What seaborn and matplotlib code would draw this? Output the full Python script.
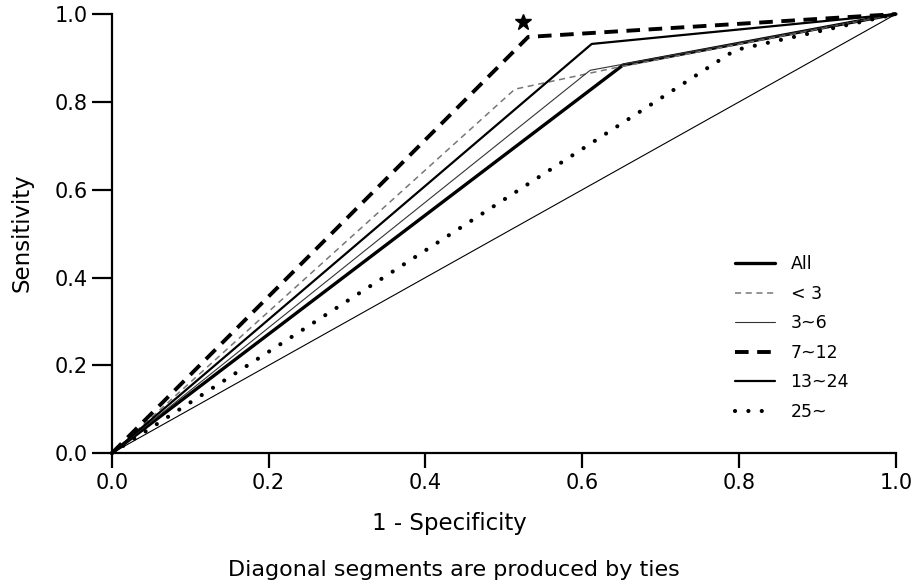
import numpy as np
import pandas as pd
import matplotlib
matplotlib.use('Agg')
import matplotlib.pyplot as plt
import seaborn as sns

# ROC vertices (1 - specificity, sensitivity)
groups = ["All", "< 3", "3~6", "7~12", "13~24", "25~"]
fpr_all = [0.0, 0.652, 1.0]
tpr_all = [0.0, 0.884, 1.0]
fpr_lt3 = [0.0, 0.514, 0.64, 1.0]
tpr_lt3 = [0.0, 0.829, 0.877, 1.0]
fpr_3_6 = [0.0, 0.61, 1.0]
tpr_3_6 = [0.0, 0.872, 1.0]
fpr_7_12 = [0.0, 0.531, 1.0]
tpr_7_12 = [0.0, 0.948, 1.0]
fpr_13_24 = [0.0, 0.612, 1.0]
tpr_13_24 = [0.0, 0.932, 1.0]
fpr_25 = [0.0, 0.795, 1.0]
tpr_25 = [0.0, 0.918, 1.0]
ref_x = [0.0, 1.0]
ref_y = [0.0, 1.0]
star_x = [0.524]
star_y = [0.982]
ticks = [0.0, 0.2, 0.4, 0.6, 0.8, 1.0]
tick_labels = ["0.0", "0.2", "0.4", "0.6", "0.8", "1.0"]

sns.set_theme(style="white")
plt.rcParams['font.family'] = ['DejaVu Sans']
plt.rcParams['text.color'] = 'black'

fig = plt.figure(figsize=(9.17, 5.87), dpi=100)
ax = fig.add_axes([0.122, 0.228, 0.855, 0.748])

styles = {
    "All": dict(color="black", linewidth=2.4, linestyle="-"),
    "< 3": dict(color="#777777", linewidth=1.1, linestyle=(0, (4, 3))),
    "3~6": dict(color="#333333", linewidth=0.8, linestyle="-"),
    "7~12": dict(color="black", linewidth=2.8, linestyle=(0, (3.5, 2.2))),
    "13~24": dict(color="black", linewidth=1.6, linestyle="-"),
    "25~": dict(color="black", linewidth=3.0, linestyle=(0, (0.01, 3.2)),
                dash_capstyle="round"),
}
data = {
    "All": (fpr_all, tpr_all),
    "< 3": (fpr_lt3, tpr_lt3),
    "3~6": (fpr_3_6, tpr_3_6),
    "7~12": (fpr_7_12, tpr_7_12),
    "13~24": (fpr_13_24, tpr_13_24),
    "25~": (fpr_25, tpr_25),
}

# reference diagonal
sns.lineplot(x=ref_x, y=ref_y, ax=ax, color="black", linewidth=0.8,
             sort=False, clip_on=False)

handles = []
for g in groups:
    xs, ys = data[g]
    df = pd.DataFrame({"x": xs, "y": ys})
    sns.lineplot(data=df, x="x", y="y", ax=ax, sort=False, clip_on=False,
                 label=g, **styles[g])
    handles.append(ax.get_lines()[-1])

ax.plot(star_x, star_y, marker="*", color="black", markersize=12,
        linestyle="none", clip_on=False)

ax.set_xlim(0, 1)
ax.set_ylim(0, 1)
ax.set_xticks(ticks)
ax.set_yticks(ticks)
ax.set_xticklabels(tick_labels, fontsize=15)
ax.set_yticklabels(tick_labels, fontsize=15)
ax.tick_params(axis="x", direction="out", length=11, width=1.6, pad=3,
               bottom=True, colors="black")
ax.tick_params(axis="y", direction="out", length=14.5, width=1.6, pad=3,
               left=True, colors="black")
for s in ["top", "right"]:
    ax.spines[s].set_visible(False)
for s in ["left", "bottom"]:
    ax.spines[s].set_linewidth(1.6)
    ax.spines[s].set_color("black")
ax.set_xlabel("")
ax.set_ylabel("")

fig.text(0.024, 0.603, "Sensitivity", rotation=90, ha="center", va="center",
         fontsize=16.5)
fig.text(0.490, 0.109, "1 - Specificity", ha="center", va="center",
         fontsize=16.5)
fig.text(0.495, 0.029, "Diagonal segments are produced by ties",
         ha="center", va="center", fontsize=16)

ax.legend(handles=handles, labels=groups, loc="upper left",
          bbox_to_anchor=(0.8015, 0.565), bbox_transform=fig.transFigure,
          frameon=False, fontsize=12.5, handlelength=2.3, handletextpad=0.9,
          labelspacing=0.66, borderpad=0, borderaxespad=0)

fig.savefig("out.png", dpi=100)
